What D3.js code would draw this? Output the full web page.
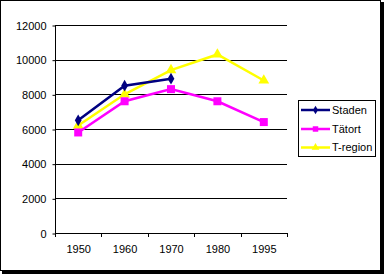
<!DOCTYPE html>
<html><head><meta charset="utf-8">
<script src="https://cdn.jsdelivr.net/npm/d3@7"></script>
<style>body{margin:0;background:#fff}svg{display:block}text{font-family:"Liberation Sans",Arial,sans-serif;font-size:11px;fill:#000}</style>
</head><body><svg id="c" width="385" height="275"></svg>
<script>
const categories = ["1950","1960","1970","1980","1995"];
const staden = [6500, 8500, 8900, null, null];
const tatort = [5800, 7600, 8300, 7600, 6400];
const tregion = [6200, 8000, 9400, 10300, 8800];
const yTicks = [0,2000,4000,6000,8000,10000,12000];
const seriesNames = ["Staden","Tätort","T-region"];

const svg = d3.select("#c");
// chart frame with shadow
svg.append("rect").attr("x",2).attr("y",2).attr("width",382).attr("height",272).attr("fill","#000");
svg.append("rect").attr("x",0.5).attr("y",0.5).attr("width",380).attr("height",270).attr("fill","#fff").attr("stroke","#000");

const x = d3.scaleBand().domain(categories).range([55,287]);
const y = d3.scaleLinear().domain([0,12000]).range([233,25]);

// gridlines
svg.append("g").selectAll("line").data(yTicks.slice(1)).join("line")
  .attr("x1",55).attr("x2",287).attr("y1",d=>Math.round(y(d))+0.5).attr("y2",d=>Math.round(y(d))+0.5)
  .attr("stroke","#000");

const yAxis = svg.append("g").attr("transform","translate(55.5,0.5)")
  .call(d3.axisLeft(y).tickValues(yTicks).tickSize(3).tickPadding(6).tickFormat(d3.format("d")));
yAxis.select(".domain").attr("d","M0,"+Math.round(y(12000))+"V"+Math.round(y(0)));
yAxis.selectAll("text").style("font-family",null).style("font-size",null).attr("font-family",null).attr("font-size",null);

const xAxis = svg.append("g").attr("transform","translate(0.5,233.5)")
  .call(d3.axisBottom(x).tickSize(0).tickPadding(12));
xAxis.select(".domain").attr("d","M55,0H287");
xAxis.attr("font-family",null).attr("font-size",null);
yAxis.attr("font-family",null).attr("font-size",null);
// category boundary ticks
svg.append("g").selectAll("line").data(categories.concat(["end"])).join("line")
  .attr("x1",(d,i)=>Math.round(55+i*x.step())+0.5).attr("x2",(d,i)=>Math.round(55+i*x.step())+0.5)
  .attr("y1",233).attr("y2",237).attr("stroke","#000");

const cx = c => x(c)+x.bandwidth()/2;
const series = [
  {name:seriesNames[0], vals:staden, color:"#000080", marker:"diamond"},
  {name:seriesNames[1], vals:tatort, color:"#FF00FF", marker:"square"},
  {name:seriesNames[2], vals:tregion, color:"#FFFF00", marker:"triangle"}
];
const sym = {diamond:d3.symbol().type(d3.symbolDiamond).size(40),
             square:d3.symbol().type(d3.symbolSquare).size(64),
             triangle:d3.symbol().type(d3.symbolTriangle).size(50)};
const line = d3.line().defined(d=>d.v!=null).x(d=>cx(d.c)).y(d=>y(d.v));
// draw in reverse order so Staden on top
[...series].reverse().forEach(s=>{
  const pts = categories.map((c,i)=>({c, v:s.vals[i]}));
  svg.append("path").datum(pts).attr("d",line).attr("fill","none").attr("stroke",s.color).attr("stroke-width",2.5);
  svg.append("g").selectAll("path").data(pts.filter(p=>p.v!=null)).join("path")
    .attr("transform",p=>`translate(${cx(p.c)},${y(p.v)})`).attr("d",sym[s.marker]()).attr("fill",s.color);
});

// legend
const lg = svg.append("g");
lg.append("rect").attr("x",298.5).attr("y",100.5).attr("width",77).attr("height",56).attr("fill","#fff").attr("stroke","#000");
const ly = [110,129,147.5];
series.forEach((s,i)=>{
  lg.append("line").attr("x1",301).attr("x2",330).attr("y1",ly[i]).attr("y2",ly[i]).attr("stroke",s.color).attr("stroke-width",2.5);
  const m = d3.symbol().type(s.marker==="diamond"?d3.symbolDiamond:s.marker==="square"?d3.symbolSquare:d3.symbolTriangle).size(s.marker==="diamond"?22:s.marker==="square"?30:26);
  lg.append("path").attr("transform",`translate(315.5,${ly[i]})`).attr("d",m()).attr("fill",s.color);
  lg.append("text").attr("x",332).attr("y",ly[i]).attr("dy","0.35em").text(s.name);
});
</script></body></html>
